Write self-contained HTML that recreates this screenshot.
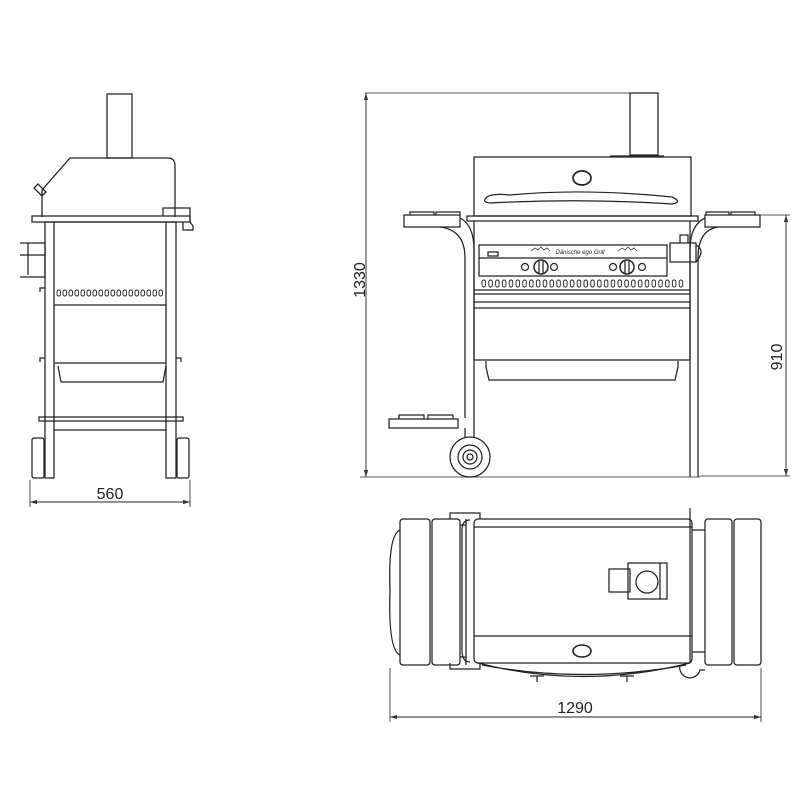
<!DOCTYPE html>
<html><head><style>
html,body{margin:0;padding:0;background:#fff;width:800px;height:800px;overflow:hidden}
svg{display:block}
text{font-family:"Liberation Sans",sans-serif;fill:#222}
</style></head><body>
<svg width="800" height="800" viewBox="0 0 800 800" xmlns="http://www.w3.org/2000/svg">
<defs>
<marker id="a" viewBox="0 0 10 6" refX="10" refY="3" markerWidth="8" markerHeight="5" orient="auto-start-reverse"><path d="M0,0 L10,3 L0,6z" fill="#333"/></marker>
</defs>
<g fill="none" stroke="#222" stroke-width="1.25">
<!-- SIDE VIEW -->
<rect x="107" y="94" width="25" height="64"/>
<path d="M42,217 L42,190 L70,158 L168,158 Q175,158 175,166 L175,217"/>
<path d="M34,188 l8,8 l4,-4 l-8,-8z"/>
<rect x="32" y="216" width="158" height="6"/>
<path d="M163,216 v-8 h27 v14 l3,4 v4 h-10 v-8"/>
<rect x="45" y="222" width="9" height="256"/>
<rect x="166" y="222" width="10" height="256"/>
<line x1="54" y1="305" x2="166" y2="305"/>
<line x1="54" y1="222" x2="166" y2="222"/>
<path d="M20,243 h25 v34 h-25 M20,255 h25 M28,243 v32"/>
<path d="M40,292 v-4 h5 M40,362 v-4 h5 M181,362 v-4 h-5"/>
<path d="M54,363 h112 M58,366 l3,16 h102 l3,-16"/>
<rect x="39" y="417" width="144" height="4"/>
<line x1="54" y1="430" x2="166" y2="430"/>
<rect x="32" y="438" width="12" height="40" rx="2"/>
<rect x="177" y="438" width="12" height="40" rx="2"/>
<line x1="30" y1="480" x2="30" y2="507" stroke-width="0.8"/><line x1="190" y1="480" x2="190" y2="507" stroke-width="0.8"/>
<line x1="30" y1="502" x2="190" y2="502" stroke-width="0.9" marker-start="url(#a)" marker-end="url(#a)"/>
<!-- FRONT VIEW -->
<line x1="365" y1="93" x2="630" y2="93" stroke-width="0.8"/>
<line x1="366" y1="93" x2="366" y2="477" stroke-width="0.9" marker-start="url(#a)" marker-end="url(#a)"/>
<line x1="360" y1="477" x2="700" y2="477" stroke-width="0.8"/>
<rect x="630" y="93" width="28" height="62"/>
<line x1="610" y1="156" x2="664" y2="156"/>
<rect x="474" y="157" width="217" height="59"/>
<ellipse cx="582" cy="178" rx="9" ry="7" stroke-width="1.7"/>
<path d="M486,198 Q490,193 510,195 Q582,188 672,197 Q683,202 672,204 Q582,198 490,203 Q482,202 486,198z"/>
<rect x="467" y="216" width="231" height="5"/>
<path d="M404,215 h56 v12 h-56z M410,215 v-3 h24 v3 M436,215 v-3 h24 v3"/>
<path d="M440,227 Q465,230 465,258 V418 M460,218 Q474,225 474,250 V418"/>
<path d="M705,215 h55 v12 h-55z M706,215 v-3 h23 v3 M731,215 v-3 h24 v3"/>
<path d="M718,227 Q698,230 698,258 V477 M705,218 Q690,225 690,250 V477"/>
<line x1="474" y1="221" x2="474" y2="360"/><line x1="690" y1="221" x2="690" y2="360"/>
<rect x="479" y="245" width="188" height="31"/>
<line x1="479" y1="258" x2="667" y2="258"/>
<rect x="488" y="252" width="10" height="4"/>
<circle cx="541" cy="267" r="7" stroke-width="1.5"/><line x1="539" y1="261" x2="539" y2="273"/><line x1="543" y1="261" x2="543" y2="273"/>
<circle cx="525" cy="267" r="3.5"/><circle cx="554" cy="267" r="3.5"/>
<circle cx="627" cy="267" r="7" stroke-width="1.5"/><line x1="625" y1="261" x2="625" y2="273"/><line x1="629" y1="261" x2="629" y2="273"/>
<circle cx="613" cy="267" r="3.5"/><circle cx="642" cy="267" r="3.5"/>
<path d="M531,251 l4,-3 l3,2 l3,-3 l3,3 l3,-2 l3,3 M618,251 l4,-3 l3,2 l3,-3 l3,3 l3,-2 l3,3" stroke-width="0.7"/>
<line x1="474" y1="290" x2="690" y2="290"/><line x1="474" y1="294" x2="690" y2="294"/>
<line x1="474" y1="302" x2="690" y2="302"/><line x1="474" y1="308" x2="690" y2="308"/>
<line x1="474" y1="360" x2="690" y2="360"/>
<path d="M486,361 v6 l3,13 h186 l3,-13 v-6"/>
<path d="M389,419 h69 v9 h-69z M399,419 v-4 h25 v4 M428,419 v-4 h25 v4"/>
<path d="M465,428 v10 M474,418 v20"/>
<circle cx="470" cy="457" r="20"/><circle cx="470" cy="457" r="12"/><circle cx="470" cy="457" r="7"/><circle cx="470" cy="457" r="3"/>
<path d="M670,243 h26 v19 h-26z M680,243 v-8 h8 v8"/>
<path d="M696,245 q10,5 0,17"/>
<line x1="705" y1="215" x2="790" y2="215" stroke-width="0.8"/>
<line x1="786" y1="215" x2="786" y2="476" stroke-width="0.9" marker-start="url(#a)" marker-end="url(#a)"/>
<line x1="700" y1="476" x2="790" y2="476" stroke-width="0.8"/>
<!-- TOP VIEW -->
<rect x="474" y="519" width="218" height="144" rx="4"/>
<line x1="474" y1="527" x2="692" y2="527"/>
<line x1="474" y1="636" x2="692" y2="636"/>
<line x1="690" y1="508" x2="690" y2="663"/>
<path d="M450,519 v-6 h30 v6 M450,663 v6 h30 v-6"/>
<rect x="400" y="519" width="30" height="146" rx="3"/>
<rect x="432" y="519" width="28" height="146" rx="3"/>
<path d="M400,530 Q388,535 390,590 Q388,650 400,655"/>
<path d="M460,525 h6 M460,657 h6 M466,519 v146 M470,520 Q462,520 462,530 V650 Q462,662 470,662"/>
<rect x="705" y="519" width="27" height="146" rx="3"/>
<rect x="734" y="519" width="27" height="146" rx="3"/>
<path d="M692,530 h13 M692,652 h13"/>
<ellipse cx="582" cy="651" rx="9" ry="6" stroke-width="1.6"/>
<rect x="609" y="569" width="21" height="23"/>
<rect x="628" y="563" width="39" height="36"/>
<line x1="660" y1="563" x2="660" y2="599"/>
<circle cx="647" cy="582" r="11"/>
<path d="M478,663 Q582,690 690,663 M482,665 Q582,684 686,665"/>
<path d="M537,676 v6 M530,676 h14 M627,676 v6 M620,676 h14"/>
<path d="M680,665 a10,10 0 0 0 20,5 h5"/>
<line x1="390" y1="668" x2="390" y2="722" stroke-width="0.8"/><line x1="761" y1="668" x2="761" y2="722" stroke-width="0.8"/>
<line x1="390" y1="717" x2="761" y2="717" stroke-width="0.9" marker-start="url(#a)" marker-end="url(#a)"/>
</g>
<g fill="none" stroke="#222" stroke-width="0.9">
<rect x="57" y="290" width="3.5" height="6" rx="1.7"/><rect x="63" y="290" width="3.5" height="6" rx="1.7"/><rect x="69" y="290" width="3.5" height="6" rx="1.7"/><rect x="75" y="290" width="3.5" height="6" rx="1.7"/><rect x="81" y="290" width="3.5" height="6" rx="1.7"/><rect x="87" y="290" width="3.5" height="6" rx="1.7"/><rect x="93" y="290" width="3.5" height="6" rx="1.7"/><rect x="99" y="290" width="3.5" height="6" rx="1.7"/><rect x="105" y="290" width="3.5" height="6" rx="1.7"/><rect x="111" y="290" width="3.5" height="6" rx="1.7"/><rect x="117" y="290" width="3.5" height="6" rx="1.7"/><rect x="123" y="290" width="3.5" height="6" rx="1.7"/><rect x="129" y="290" width="3.5" height="6" rx="1.7"/><rect x="135" y="290" width="3.5" height="6" rx="1.7"/><rect x="141" y="290" width="3.5" height="6" rx="1.7"/><rect x="147" y="290" width="3.5" height="6" rx="1.7"/><rect x="153" y="290" width="3.5" height="6" rx="1.7"/><rect x="159" y="290" width="3.5" height="6" rx="1.7"/>
</g>
<g fill="none" stroke="#222" stroke-width="0.9">
<rect x="482" y="280" width="3.5" height="7" rx="1.7"/><rect x="488.8" y="280" width="3.5" height="7" rx="1.7"/><rect x="495.6" y="280" width="3.5" height="7" rx="1.7"/><rect x="502.4" y="280" width="3.5" height="7" rx="1.7"/><rect x="509.2" y="280" width="3.5" height="7" rx="1.7"/><rect x="516" y="280" width="3.5" height="7" rx="1.7"/><rect x="522.8" y="280" width="3.5" height="7" rx="1.7"/><rect x="529.6" y="280" width="3.5" height="7" rx="1.7"/><rect x="536.4" y="280" width="3.5" height="7" rx="1.7"/><rect x="543.2" y="280" width="3.5" height="7" rx="1.7"/><rect x="550" y="280" width="3.5" height="7" rx="1.7"/><rect x="556.8" y="280" width="3.5" height="7" rx="1.7"/><rect x="563.6" y="280" width="3.5" height="7" rx="1.7"/><rect x="570.4" y="280" width="3.5" height="7" rx="1.7"/><rect x="577.2" y="280" width="3.5" height="7" rx="1.7"/><rect x="584" y="280" width="3.5" height="7" rx="1.7"/><rect x="590.8" y="280" width="3.5" height="7" rx="1.7"/><rect x="597.6" y="280" width="3.5" height="7" rx="1.7"/><rect x="604.4" y="280" width="3.5" height="7" rx="1.7"/><rect x="611.2" y="280" width="3.5" height="7" rx="1.7"/><rect x="618" y="280" width="3.5" height="7" rx="1.7"/><rect x="624.8" y="280" width="3.5" height="7" rx="1.7"/><rect x="631.6" y="280" width="3.5" height="7" rx="1.7"/><rect x="638.4" y="280" width="3.5" height="7" rx="1.7"/><rect x="645.2" y="280" width="3.5" height="7" rx="1.7"/><rect x="652" y="280" width="3.5" height="7" rx="1.7"/><rect x="658.8" y="280" width="3.5" height="7" rx="1.7"/><rect x="665.6" y="280" width="3.5" height="7" rx="1.7"/><rect x="672.4" y="280" width="3.5" height="7" rx="1.7"/><rect x="679.2" y="280" width="3.5" height="7" rx="1.7"/>
</g>
<text x="580" y="254" font-size="6" font-style="italic" text-anchor="middle" font-family="Liberation Serif">Dänische ego Grill</text>
<text x="110" y="499" font-size="16" text-anchor="middle">560</text>
<text x="575" y="713" font-size="16" text-anchor="middle">1290</text>
<text transform="translate(365,280) rotate(-90)" font-size="16" text-anchor="middle">1330</text>
<text transform="translate(782,357) rotate(-90)" font-size="16" text-anchor="middle">910</text>
</svg>
</body></html>
